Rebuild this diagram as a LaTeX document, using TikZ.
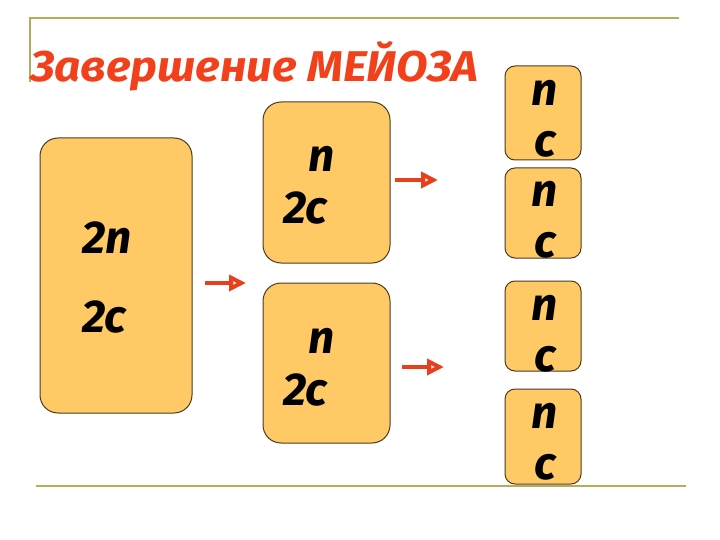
\documentclass[tikz,border=0pt]{standalone}
\usepackage{fontspec}
\setmainfont{Fira Sans}
\usetikzlibrary{arrows.meta}
\definecolor{olive}{HTML}{B5AD5E}
\definecolor{cellfill}{HTML}{FFC966}
\definecolor{cellline}{HTML}{4A3C22}
\definecolor{titlered}{HTML}{F2401A}
\definecolor{arrowred}{HTML}{E8401C}
\tikzset{
  cell/.style={draw=cellline, fill=cellfill, line width=1pt, rounded corners=18pt, inner sep=0pt},
  smallcell/.style={cell, rounded corners=10pt},
  lbl/.style={font=\fontsize{46}{46}\selectfont\bfseries\itshape, text=black, inner sep=0pt},
  rule/.style={draw=olive, line width=1.8pt},
  flow/.style={draw=arrowred, line width=4.5pt, -{Triangle[length=17pt,width=16pt,fill=red!12,line width=4pt]}}
}
\begin{document}
\begin{tikzpicture}[x=1pt,y=-1pt]
\useasboundingbox (0,0) rectangle (720,540);
% frame lines
\coordinate (tl) at (30,18);
\coordinate (tr) at (679,18);
\coordinate (tv) at (30,82);
\coordinate (bl) at (36,486);
\coordinate (br) at (686,486);
\draw[rule] (tv) -- (tl) -- (tr);
\draw[rule] (bl) -- (br);
% title
\node[anchor=base west, inner sep=0pt, text=titlered, font=\fontsize{43}{43}\selectfont\bfseries\itshape] (title) at (30,82) {\scalebox{1.07}[1]{Завершение МЕЙОЗА}};
% cells
\node[cell, minimum width=152pt, minimum height=275pt] (big) at (116,275.5) {};
\node[cell, minimum width=127pt, minimum height=161pt] (m1) at (326.5,182.5) {};
\node[cell, minimum width=127pt, minimum height=160pt] (m2) at (326.5,363) {};
\node[smallcell, minimum width=76pt, minimum height=94pt] (s1) at (543,113) {};
\node[smallcell, minimum width=76pt, minimum height=90pt] (s2) at (543,213) {};
\node[smallcell, minimum width=76pt, minimum height=90pt] (s3) at (543,326) {};
\node[smallcell, minimum width=76pt, minimum height=95pt] (s4) at (543,436.5) {};
% labels
\node[lbl, anchor=base west] (big1) at (82,254) {2n};
\node[lbl, anchor=base west] (big2) at (82,332) {2c};
\node[lbl, anchor=base] (m1a) at (322,172) {n};
\node[lbl, anchor=base west] (m1b) at (283,224) {2c};
\node[lbl, anchor=base] (m2a) at (322,353) {n};
\node[lbl, anchor=base west] (m2b) at (283,405) {2c};
\node[lbl, anchor=base] (s1a) at (545,106) {n};
\node[lbl, anchor=base] (s1b) at (545,157) {c};
\node[lbl, anchor=base] (s2a) at (545,207) {n};
\node[lbl, anchor=base] (s2b) at (545,257) {c};
\node[lbl, anchor=base] (s3a) at (545,320) {n};
\node[lbl, anchor=base] (s3b) at (545,371) {c};
\node[lbl, anchor=base] (s4a) at (545,428) {n};
\node[lbl, anchor=base] (s4b) at (545,479) {c};
% arrows
\coordinate (a1s) at (205,283);
\coordinate (a1e) at (246,283);
\coordinate (a2s) at (395,180);
\coordinate (a2e) at (438,180);
\coordinate (a3s) at (402,367);
\coordinate (a3e) at (444,367);
\draw[flow] (a1s) -- (a1e);
\draw[flow] (a2s) -- (a2e);
\draw[flow] (a3s) -- (a3e);
\end{tikzpicture}
\end{document}
